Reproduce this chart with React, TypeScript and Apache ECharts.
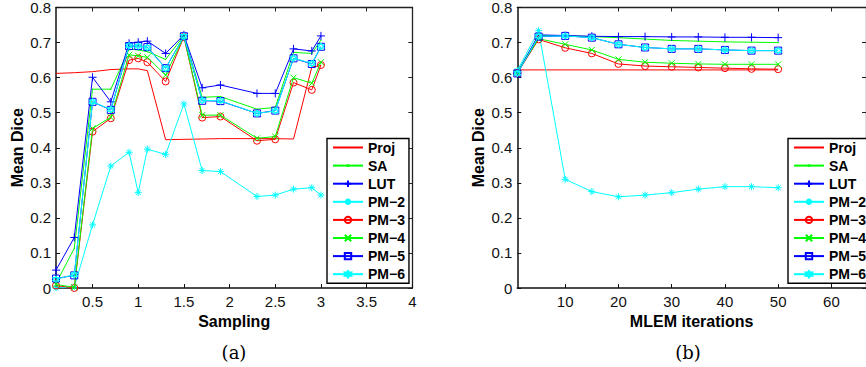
import React, { useEffect, useRef } from "react";
import * as echarts from "echarts";

const seriesNames = ["Proj", "SA", "LUT", "PM−2", "PM−3", "PM−4", "PM−5", "PM−6"];

const samplingX = [0.1, 0.3, 0.5, 0.7, 0.9, 1.0, 1.1, 1.3, 1.5, 1.7, 1.9, 2.3, 2.5, 2.7, 2.9, 3.0];
const sampProj = [0.612, 0.614, 0.617, 0.623, 0.625, 0.625, 0.620, 0.423, 0.424, 0.425, 0.426, 0.426, 0.426, 0.425, 0.630, 0.635];
const sampSA = [0.013, 0.113, 0.567, 0.567, 0.681, 0.679, 0.674, 0.652, 0.720, 0.544, 0.546, 0.510, 0.515, 0.672, 0.669, 0.707];
const sampLUT = [0.051, 0.144, 0.601, 0.531, 0.698, 0.701, 0.704, 0.669, 0.722, 0.571, 0.579, 0.555, 0.555, 0.682, 0.676, 0.719];
const sampPM2 = [0.0, 0.003, 0.180, 0.348, 0.387, 0.272, 0.396, 0.381, 0.525, 0.335, 0.332, 0.261, 0.265, 0.282, 0.286, 0.265];
const sampPM3 = [0.007, 0.0, 0.446, 0.484, 0.650, 0.655, 0.644, 0.589, 0.716, 0.486, 0.489, 0.420, 0.424, 0.586, 0.565, 0.636];
const sampPM4 = [0.010, 0.002, 0.455, 0.487, 0.665, 0.662, 0.658, 0.607, 0.717, 0.493, 0.493, 0.427, 0.432, 0.600, 0.584, 0.644];
const sampPM5 = [0.027, 0.036, 0.531, 0.508, 0.690, 0.690, 0.687, 0.627, 0.718, 0.534, 0.533, 0.498, 0.506, 0.655, 0.639, 0.688];
const sampPM6 = [0.025, 0.038, 0.531, 0.509, 0.691, 0.690, 0.686, 0.626, 0.718, 0.535, 0.534, 0.498, 0.505, 0.656, 0.640, 0.689];

const iterX = [1, 5, 10, 15, 20, 25, 30, 35, 40, 45, 50];
const iterProj = [0.622, 0.622, 0.622, 0.622, 0.622, 0.622, 0.622, 0.622, 0.622, 0.622, 0.622];
const iterSA = [0.615, 0.720, 0.720, 0.717, 0.714, 0.710, 0.706, 0.704, 0.702, 0.701, 0.700];
const iterLUT = [0.614, 0.722, 0.720, 0.718, 0.717, 0.717, 0.716, 0.716, 0.715, 0.715, 0.714];
const iterPM2 = [0.620, 0.734, 0.310, 0.275, 0.260, 0.265, 0.272, 0.282, 0.289, 0.289, 0.286];
const iterPM3 = [0.613, 0.709, 0.685, 0.669, 0.639, 0.633, 0.631, 0.629, 0.627, 0.625, 0.624];
const iterPM4 = [0.615, 0.711, 0.695, 0.679, 0.652, 0.644, 0.641, 0.639, 0.638, 0.638, 0.638];
const iterPM5 = [0.612, 0.717, 0.719, 0.714, 0.695, 0.686, 0.682, 0.682, 0.679, 0.677, 0.677];
const iterPM6 = [0.612, 0.718, 0.719, 0.714, 0.695, 0.686, 0.682, 0.682, 0.679, 0.677, 0.677];

const samplingTicks = [0.5, 1, 1.5, 2, 2.5, 3, 3.5, 4];
const iterTicks = [10, 20, 30, 40, 50, 60];

const FONT = "'Liberation Sans', Arial, Helvetica, sans-serif";
const SERIF = "'DejaVu Serif', 'Liberation Serif', serif";

const styles = [
  { color: "#ff0000", symbol: "path://M0,0L0,0M10,10L10,10", size: 6, show: false },
  { color: "#00ff00", symbol: "path://M0,0L0,0M10,10L10,10M4.6,4.6H5.4V5.4H4.6Z", size: 6, show: true },
  { color: "#0000ff", symbol: "path://M5,0V10M0,5H10", size: 8, show: true },
  { color: "#00ffff", symbol: "path://M5,0V10M0,5H10M1.5,1.5L8.5,8.5M8.5,1.5L1.5,8.5", size: 7, show: true },
  { color: "#ff0000", symbol: "path://M10,5A5,5,0,1,1,0,5A5,5,0,1,1,10,5Z", size: 7, show: true },
  { color: "#00ff00", symbol: "path://M0,0L10,10M10,0L0,10", size: 6, show: true },
  { color: "#0000ff", symbol: "path://M0,0H10V10H0Z", size: 7, show: true },
  { color: "#00ffff", symbol: "path://M5,0L9.33,7.5H0.67ZM5,10L0.67,2.5H9.33Z", size: 7, show: true },
];

function pairs(xs: number[], ys: number[]) {
  return xs.map((x, i) => [x, ys[i]]);
}

function makeSeries(xs: number[], data: number[][], axisIdx: number) {
  return data.map((ys, i) => {
    const s = styles[i];
    return {
      type: "line",
      name: seriesNames[i],
      xAxisIndex: axisIdx,
      yAxisIndex: axisIdx,
      data: pairs(xs, ys),
      symbol: s.symbol,
      symbolSize: s.size,
      showSymbol: s.show,
      lineStyle: { color: s.color, width: 1 },
      itemStyle: {
        color: "transparent",
        borderColor: s.color,
        borderWidth: 1,
      },
      emphasis: { disabled: true },
      z: 2 + i * 0.01,
    };
  });
}

function baseX(grid: number, min: number, max: number, ticks: number[], name: string) {
  return {
    type: "value",
    gridIndex: grid,
    min,
    max,
    position: "bottom",
    name,
    nameLocation: "middle",
    nameGap: 18,
    nameTextStyle: { fontFamily: FONT, fontWeight: "bold", fontSize: 16, color: "#000" },
    axisLine: { show: true, onZero: false, lineStyle: { color: "#111", width: 1.5 } },
    axisTick: { show: true, inside: true, length: 4, customValues: ticks, lineStyle: { color: "#111", width: 1 } },
    axisLabel: { show: true, customValues: ticks, margin: 6, fontFamily: FONT, fontSize: 15, color: "#111" },
    splitLine: { show: false },
  };
}

function topX(grid: number, min: number, max: number, ticks: number[]) {
  return {
    type: "value",
    gridIndex: grid,
    min,
    max,
    position: "top",
    axisLine: { show: true, onZero: false, lineStyle: { color: "#222", width: 1.3 } },
    axisTick: { show: true, inside: true, length: 4, customValues: ticks, lineStyle: { color: "#222", width: 1 } },
    axisLabel: { show: false },
    splitLine: { show: false },
  };
}

function baseY(grid: number) {
  return {
    type: "value",
    gridIndex: grid,
    min: 0,
    max: 0.8,
    interval: 0.1,
    position: "left",
    name: "Mean Dice",
    nameLocation: "middle",
    nameGap: 31,
    nameRotate: 90,
    nameTextStyle: { fontFamily: FONT, fontWeight: "bold", fontSize: 16, color: "#000" },
    axisLine: { show: true, onZero: false, lineStyle: { color: "#111", width: 1.5 } },
    axisTick: { show: true, inside: true, length: 4, lineStyle: { color: "#111", width: 1 } },
    axisLabel: { show: true, margin: 5, fontFamily: FONT, fontSize: 15, color: "#111" },
    splitLine: { show: false },
  };
}

function rightY(grid: number) {
  return {
    type: "value",
    gridIndex: grid,
    min: 0,
    max: 0.8,
    interval: 0.1,
    position: "right",
    axisLine: { show: true, onZero: false, lineStyle: { color: "#222", width: 1.3 } },
    axisTick: { show: true, inside: true, length: 4, lineStyle: { color: "#222", width: 1 } },
    axisLabel: { show: false },
    splitLine: { show: false },
  };
}

function legendAt(left: number) {
  return {
    orient: "vertical",
    left,
    top: 138.5,
    itemWidth: 30,
    itemHeight: 8,
    itemGap: 4.1,
    padding: [2, 4, 2, 5],
    borderColor: "#000",
    borderWidth: 1.4,
    backgroundColor: "#fff",
    selectedMode: false,
    textStyle: { fontFamily: FONT, fontWeight: "bold", fontSize: 14, lineHeight: 14, color: "#000" },
    data: seriesNames,
    z: 10,
  };
}

export default function App() {
  const ref = useRef<HTMLDivElement>(null);
  useEffect(() => {
    if (!ref.current) return;
    const chart = echarts.init(ref.current, undefined, { renderer: "svg" });
    const option = {
      animation: false,
      backgroundColor: "#fff",
      grid: [
        { left: 56, top: 7.5, width: 356.3, height: 280.5 },
        { left: 517.3, top: 7.5, width: 356, height: 280.5 },
      ],
      xAxis: [
        baseX(0, 0.1, 4, samplingTicks, "Sampling"),
        topX(0, 0.1, 4, samplingTicks),
        baseX(1, 1, 66.5, iterTicks, "MLEM iterations"),
        topX(1, 1, 66.5, iterTicks),
      ],
      yAxis: [baseY(0), rightY(0), baseY(1), rightY(1)],
      legend: [legendAt(327), legendAt(788)],
      series: [
        ...makeSeries(samplingX, [sampProj, sampSA, sampLUT, sampPM2, sampPM3, sampPM4, sampPM5, sampPM6], 0),
        ...makeSeries(iterX, [iterProj, iterSA, iterLUT, iterPM2, iterPM3, iterPM4, iterPM5, iterPM6], 2),
      ],
      graphic: [
        {
          type: "text",
          x: 234,
          y: 352,
          style: { text: "(a)", fontFamily: SERIF, fontSize: 18, fill: "#000", align: "center", verticalAlign: "middle" },
        },
        {
          type: "text",
          x: 688,
          y: 352,
          style: { text: "(b)", fontFamily: SERIF, fontSize: 18, fill: "#000", align: "center", verticalAlign: "middle" },
        },
      ],
    };
    chart.setOption(option as any);
    return () => chart.dispose();
  }, []);
  return (
    <div
      ref={ref}
      style={{ position: "absolute", left: 0, top: 0, width: 866, height: 367, overflow: "hidden" }}
    />
  );
}
